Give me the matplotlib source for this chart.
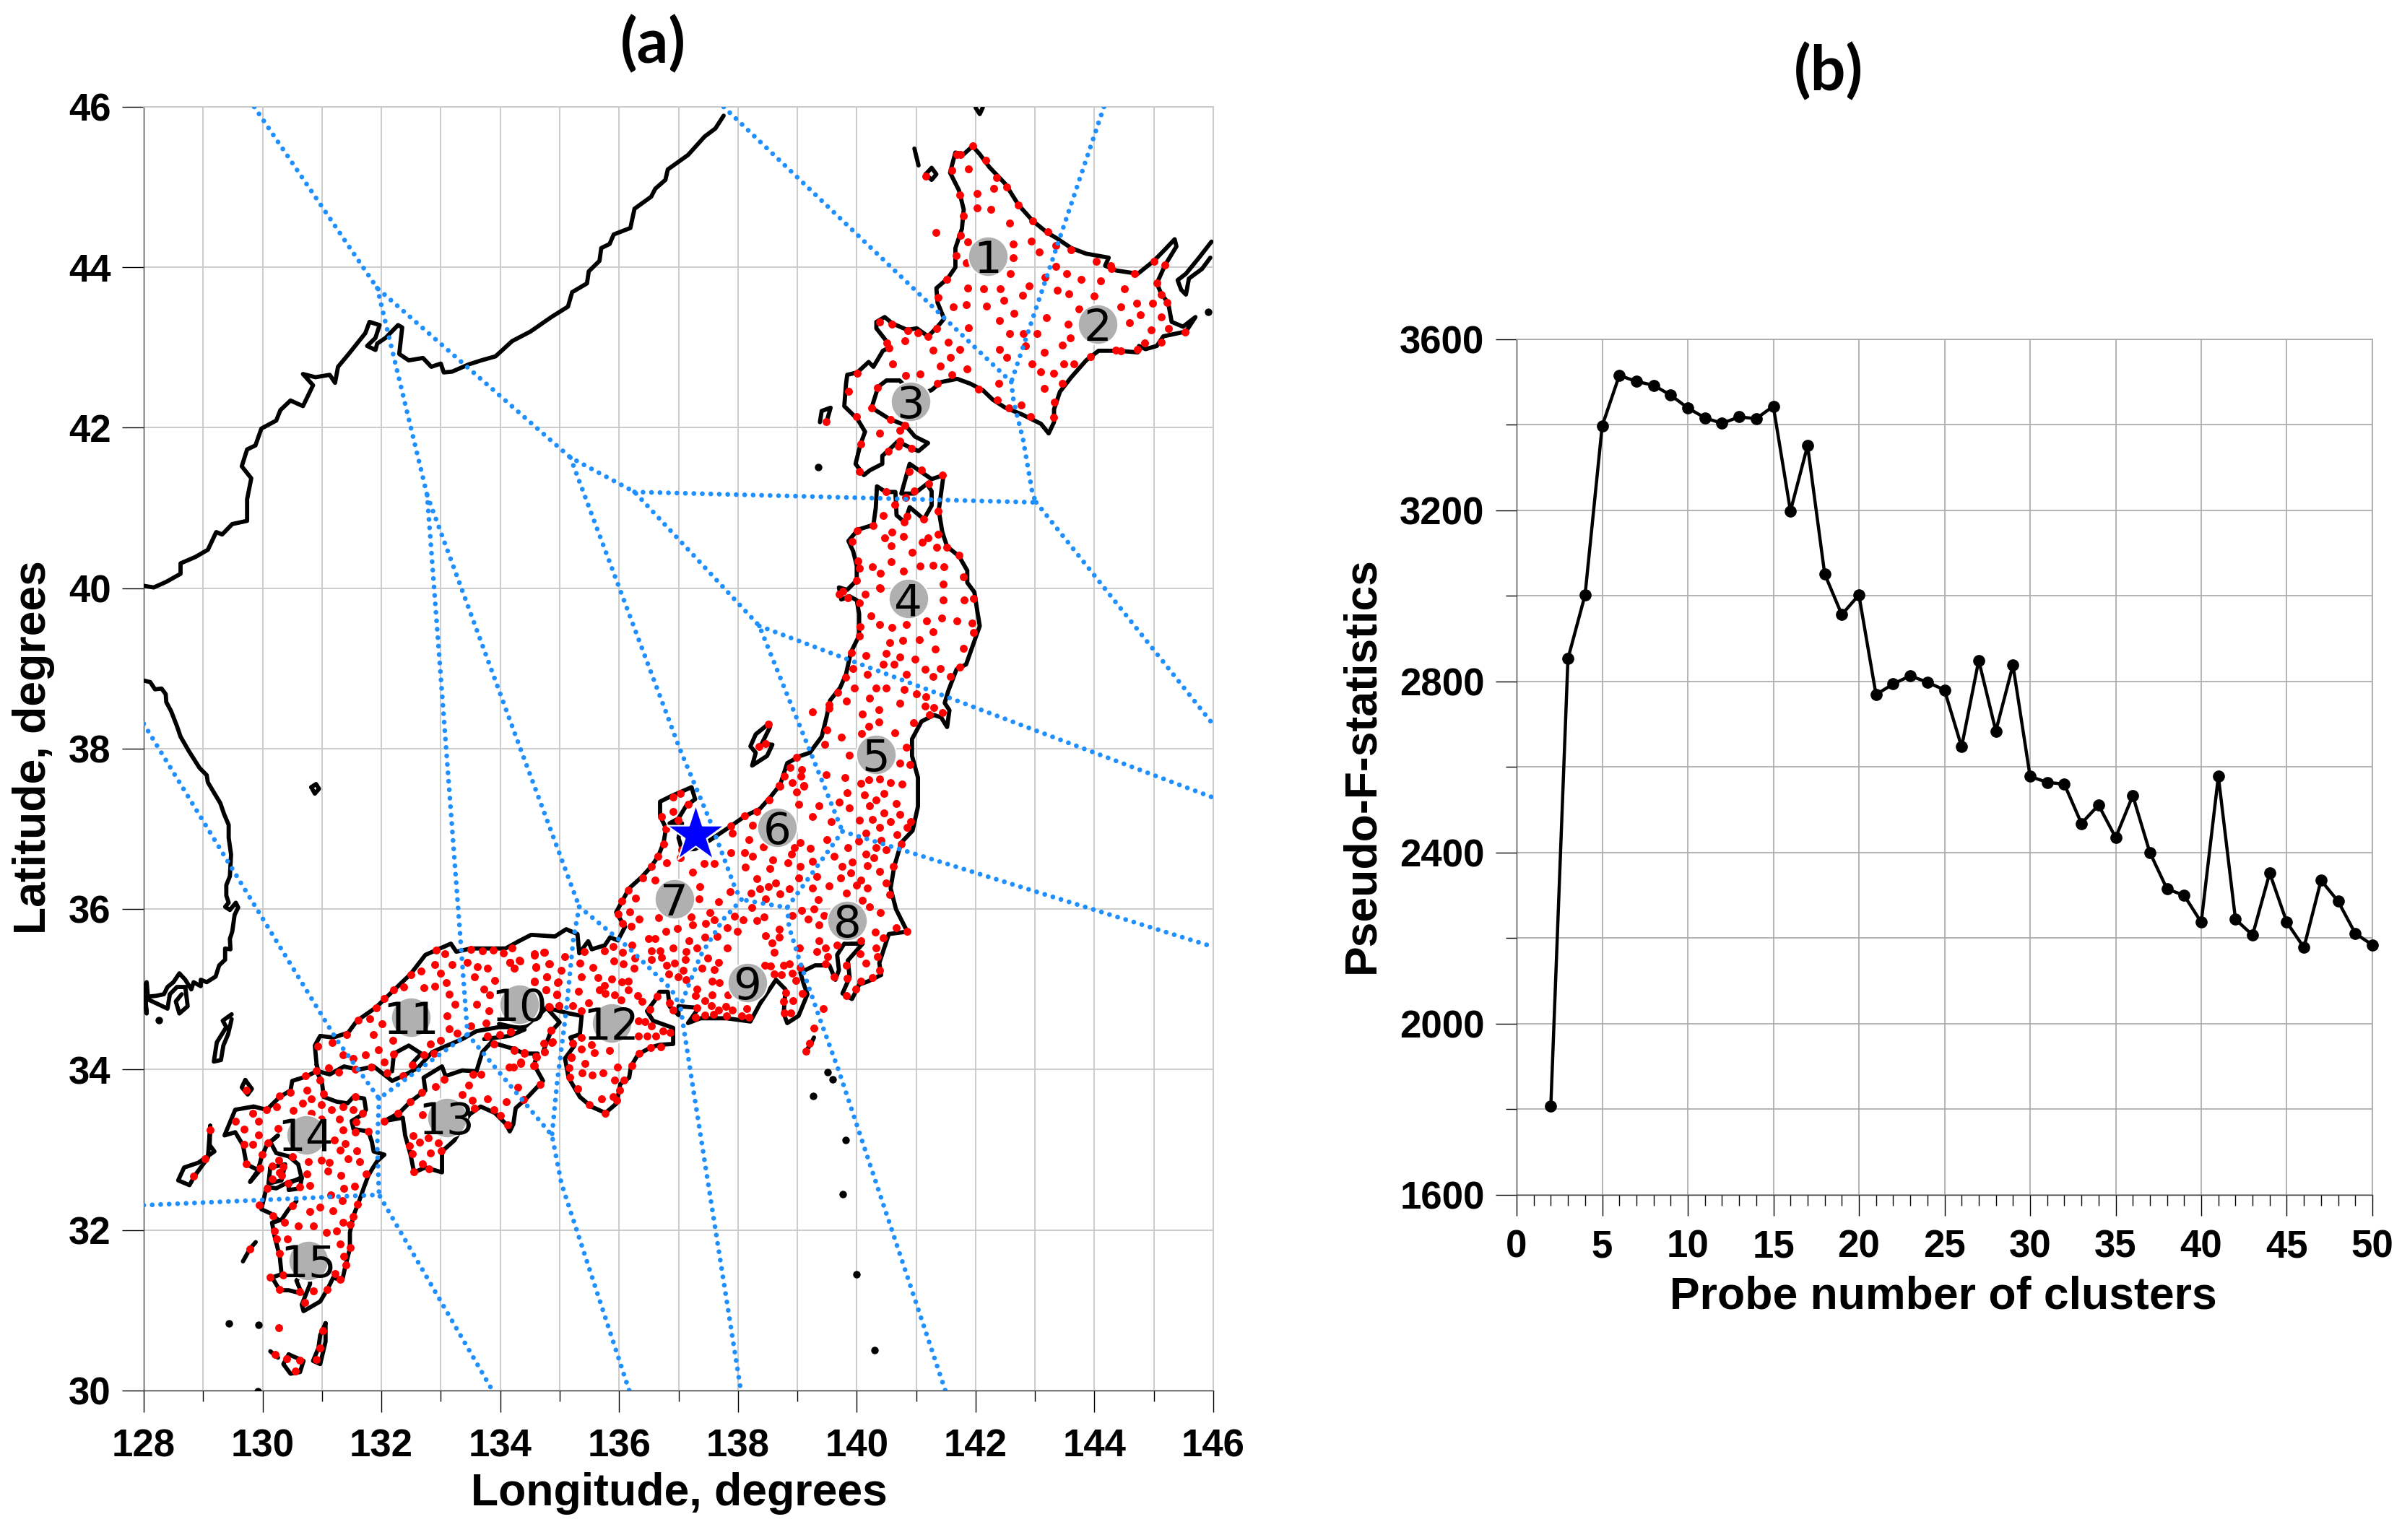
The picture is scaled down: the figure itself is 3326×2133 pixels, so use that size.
import matplotlib
matplotlib.use('Agg')
import matplotlib.pyplot as plt

W, H = 3326, 2133

# panel (b) values
probe_k = list(range(2, 51))
pseudo_f = [1808, 2853, 3002, 3397, 3515, 3501, 3492, 3469, 3439, 3416, 3403, 3418, 3414, 3443,
            3198, 3351, 3051, 2956, 3002, 2769, 2794, 2813, 2798, 2780, 2647, 2849, 2684, 2838,
            2578, 2564, 2560, 2468, 2511, 2435, 2533, 2400, 2315, 2300, 2237, 2578, 2244, 2207,
            2352, 2237, 2178, 2335, 2286, 2211, 2184]

# cluster labels (lon, lat)
cluster_lon = [142.21, 144.06, 140.91, 140.87, 140.32, 138.66, 136.93, 139.84, 138.16, 134.32, 132.5, 135.87, 133.10, 130.73, 130.77]
cluster_lat = [44.14, 43.29, 42.33, 39.87, 37.93, 37.02, 36.13, 35.86, 35.08, 34.81, 34.65, 34.58, 33.40, 33.19, 31.62]
star_lon, star_lat = 137.28, 36.93

mainland = [(128,40.03),(128.17,40.01),(128.38,40.08),(128.62,40.18),(128.62,40.31),(128.87,40.39),(129.08,40.48),(129.22,40.70),(129.32,40.67),(129.49,40.80),(129.74,40.84),(129.74,41.11),(129.81,41.37),(129.65,41.52),(129.74,41.73),(129.88,41.78),(129.98,41.99),(130.23,42.09),(130.30,42.22),(130.47,42.34),(130.68,42.27),(130.85,42.53),(130.68,42.67),(130.89,42.63),(131.13,42.66),(131.22,42.56),(131.27,42.76),(131.45,42.92),(131.73,43.18),(131.80,43.32),(131.97,43.28),(131.90,43.12),(131.76,43.02),(131.90,42.97),(131.93,43.05),(132.07,43.12),(132.28,43.28),(132.35,43.25),(132.30,42.92),(132.46,42.84),(132.70,42.87),(132.84,42.76),(133.0,42.80),(133.05,42.69),(133.19,42.70),(133.47,42.79),(133.68,42.84),(133.92,42.89),(134.20,43.08),(134.51,43.20),(134.86,43.38),(135.14,43.51),(135.21,43.69),(135.46,43.80),(135.49,43.95),(135.67,44.08),(135.70,44.24),(135.84,44.29),(135.91,44.41),(136.19,44.49),(136.26,44.73),(136.54,44.88),(136.61,44.98),(136.78,45.09),(136.82,45.22),(137.16,45.40),(137.44,45.63),(137.62,45.73),(137.76,45.89)]
korea = [(128,38.85),(128.11,38.83),(128.19,38.74),(128.30,38.75),(128.37,38.68),(128.38,38.58),(128.46,38.47),(128.56,38.28),(128.62,38.15),(128.76,37.97),(128.94,37.76),(129.06,37.67),(129.08,37.58),(129.29,37.32),(129.35,37.19),(129.43,37.05),(129.43,36.89),(129.47,36.68),(129.45,36.41),(129.39,36.30),(129.39,36.17),(129.43,36.08),(129.37,36.03),(129.45,35.99),(129.55,36.08),(129.59,36.02),(129.53,35.93),(129.49,35.72),(129.45,35.63),(129.46,35.5),(129.37,35.51),(129.37,35.37),(129.27,35.30),(129.21,35.16),(129.06,35.09),(128.96,35.12),(128.96,35.04),(128.84,35.09),(128.80,35.0),(128.70,35.12),(128.60,35.2),(128.50,35.09),(128.40,35.03),(128.34,34.94),(128.21,34.92),(128.07,34.91),(128.05,35.09),(128.0,35.01),(128.05,34.70),(128.03,34.89),(128.23,34.82),(128.40,34.76),(128.44,34.94),(128.56,35.03),(128.70,35.03),(128.74,34.79),(128.60,34.70),(128.54,34.85),(128.64,34.94)]
hokkaido = [(141.95,45.51),(142.07,45.41),(142.23,45.25),(142.50,45.04),(142.72,44.78),(142.96,44.58),(143.21,44.43),(143.37,44.36),(143.61,44.24),(143.86,44.17),(144.24,44.12),(144.18,44.02),(144.37,43.96),(144.73,43.92),(145.0,44.08),(145.21,44.24),(145.35,44.35),(145.38,44.26),(145.19,44.03),(145.05,43.80),(145.13,43.66),(145.24,43.56),(145.30,43.32),(145.49,43.26),(145.70,43.38),(145.54,43.2),(145.16,43.14),(145.05,43.02),(144.86,42.98),(144.75,43.02),(144.73,42.94),(144.40,42.96),(144.07,42.96),(143.86,42.84),(143.61,42.63),(143.42,42.45),(143.32,42.23),(143.32,42.07),(143.23,41.93),(143.10,42.05),(142.77,42.17),(142.50,42.25),(142.29,42.35),(142.12,42.47),(141.91,42.55),(141.69,42.61),(141.42,42.57),(141.26,42.47),(140.98,42.39),(140.72,42.59),(140.50,42.59),(140.36,42.51),(140.25,42.25),(140.55,42.11),(140.82,42.03),(140.98,41.89),(141.20,41.81),(141.04,41.71),(140.88,41.76),(140.69,41.83),(140.55,41.73),(140.43,41.65),(140.43,41.55),(140.22,41.47),(140.12,41.41),(139.98,41.55),(140.06,41.79),(140.14,41.95),(140.01,42.11),(139.79,42.27),(139.82,42.55),(139.84,42.66),(140.01,42.69),(140.20,42.82),(140.28,42.76),(140.44,42.96),(140.55,43.0),(140.50,43.08),(140.33,43.24),(140.33,43.32),(140.47,43.38),(140.60,43.30),(140.85,43.22),(141.01,43.24),(141.20,43.14),(141.36,43.26),(141.47,43.36),(141.36,43.56),(141.34,43.74),(141.53,43.86),(141.66,44.0),(141.66,44.24),(141.77,44.48),(141.80,44.72),(141.72,44.96),(141.57,45.18),(141.66,45.43),(141.80,45.41),(141.95,45.51)]
honshu = [(130.91,34.06),(130.88,34.30),(130.97,34.42),(131.19,34.40),(131.44,34.46),(131.59,34.61),(131.90,34.77),(132.21,34.99),(132.49,35.19),(132.74,35.43),(133.17,35.57),(133.26,35.47),(133.51,35.51),(133.85,35.51),(134.09,35.51),(134.31,35.6),(134.52,35.68),(134.92,35.66),(135.11,35.75),(135.30,35.69),(135.33,35.45),(135.48,35.60),(135.54,35.50),(135.76,35.55),(135.85,35.65),(135.98,35.61),(136.10,35.78),(135.95,35.96),(136.17,36.26),(136.38,36.40),(136.54,36.53),(136.66,36.66),(136.75,36.83),(136.79,37.01),(136.69,37.16),(136.69,37.34),(136.88,37.41),(137.22,37.52),(137.28,37.37),(137.13,37.29),(137.00,37.13),(136.85,37.07),(137.06,37.07),(137.0,36.89),(137.06,36.74),(137.28,36.75),(137.53,36.86),(137.87,37.03),(138.12,37.16),(138.37,37.25),(138.55,37.40),(138.71,37.55),(138.83,37.82),(139.05,37.91),(139.21,37.95),(139.41,38.15),(139.49,38.39),(139.55,38.60),(139.72,38.76),(139.82,38.93),(139.90,39.20),(140.04,39.41),(140.04,39.68),(140.0,39.85),(139.88,39.90),(139.74,39.86),(139.70,40.01),(139.84,39.98),(140.0,40.10),(140.0,40.28),(139.94,40.46),(139.86,40.59),(140.02,40.73),(140.28,40.79),(140.32,41.0),(140.34,41.27),(140.49,41.2),(140.65,41.2),(140.67,40.91),(140.81,40.82),(140.89,41.01),(141.13,40.86),(141.26,41.03),(141.26,41.21),(141.18,41.30),(140.97,41.18),(140.75,41.18),(140.89,41.55),(141.26,41.36),(141.46,41.41),(141.38,40.97),(141.44,40.70),(141.52,40.52),(141.72,40.40),(141.86,40.22),(141.86,40.07),(141.98,39.95),(142.03,39.71),(142.07,39.53),(141.97,39.32),(141.84,39.05),(141.68,38.99),(141.54,38.72),(141.48,38.57),(141.56,38.48),(141.52,38.27),(141.42,38.39),(141.30,38.42),(141.09,38.34),(140.93,38.12),(140.93,37.91),(141.03,37.64),(141.03,37.28),(140.94,36.98),(140.75,36.83),(140.63,36.53),(140.57,36.26),(140.66,36.0),(140.85,35.72),(140.54,35.69),(140.38,35.33),(140.41,35.18),(140.19,35.10),(140.04,35.06),(139.92,34.88),(139.76,34.95),(139.88,35.15),(139.85,35.36),(140.10,35.57),(139.79,35.57),(139.67,35.43),(139.70,35.24),(139.64,35.12),(139.54,35.30),(139.30,35.30),(139.05,35.21),(139.11,35.06),(139.17,34.94),(139.02,34.67),(138.83,34.58),(138.77,34.70),(138.80,35.0),(138.64,35.12),(138.37,34.82),(138.21,34.60),(137.81,34.64),(137.37,34.64),(137.16,34.58),(137.34,34.77),(137.0,34.79),(137.0,34.68),(136.85,34.79),(136.82,34.97),(136.68,34.97),(136.60,34.86),(136.47,34.73),(136.57,34.61),(136.91,34.52),(136.91,34.32),(136.69,34.31),(136.54,34.28),(136.32,34.19),(136.20,34.04),(136.17,33.90),(136.02,33.82),(135.96,33.58),(135.77,33.46),(135.53,33.54),(135.34,33.66),(135.15,33.90),(135.09,34.14),(135.25,34.30),(135.18,34.40),(135.34,34.44),(135.37,34.67),(135.16,34.70),(134.78,34.77),(134.41,34.53),(133.98,34.53),(133.60,34.48),(133.36,34.38),(132.98,34.26),(132.86,34.22),(132.61,34.02),(132.36,33.92),(132.18,33.86),(131.87,34.04),(131.62,34.0),(131.37,34.04),(131.13,33.94),(130.94,33.98),(130.91,34.06)]
shikoku = [(132.05,33.36),(132.30,33.46),(132.49,33.60),(132.74,33.74),(132.71,33.90),(133.02,34.04),(133.08,33.92),(133.36,33.99),(133.60,33.98),(133.70,34.22),(133.85,34.34),(134.22,34.26),(134.41,34.20),(134.63,34.20),(134.57,34.06),(134.72,33.86),(134.44,33.64),(134.26,33.52),(134.22,33.32),(134.16,33.23),(134.10,33.32),(133.91,33.46),(133.67,33.54),(133.48,33.44),(133.23,33.12),(133.02,32.98),(133.02,32.72),(132.74,32.78),(132.55,32.72),(132.49,32.94),(132.40,33.18),(132.36,33.40),(132.05,33.36)]
kyushu = [(129.85,33.54),(130.07,33.50),(130.29,33.66),(130.47,33.74),(130.50,33.86),(130.72,33.91),(130.91,33.98),(131.00,33.84),(131.03,33.66),(131.25,33.60),(131.43,33.58),(131.53,33.66),(131.71,33.64),(131.74,33.50),(131.68,33.44),(131.50,33.36),(131.53,33.26),(131.78,33.23),(131.84,33.10),(131.87,32.98),(132.05,32.94),(131.93,32.86),(131.86,32.78),(131.78,32.68),(131.70,32.52),(131.62,32.35),(131.53,32.18),(131.47,31.97),(131.47,31.77),(131.40,31.57),(131.34,31.37),(131.19,31.41),(131.09,31.26),(130.97,31.11),(130.69,30.99),(130.66,31.07),(130.80,31.33),(130.78,31.57),(130.57,31.37),(130.66,31.21),(130.44,31.25),(130.29,31.25),(130.16,31.41),(130.32,31.45),(130.29,31.67),(130.20,31.93),(130.16,32.09),(130.26,32.13),(130.13,32.21),(129.98,32.26),(130.07,32.54),(130.23,32.52),(130.44,32.60),(130.66,32.64),(130.60,32.82),(130.44,32.92),(130.23,32.96),(130.13,33.10),(130.26,33.18),(130.07,33.06),(129.98,32.90),(129.92,32.74),(129.79,32.60),(129.95,32.74),(129.73,32.82),(129.67,33.06),(129.54,33.22),(129.36,33.18),(129.45,33.34),(129.54,33.50),(129.85,33.54)]
small_coasts = [
    [(130.57,32.36),(130.44,32.26),(130.32,32.13),(130.16,32.09)],
    [(130.13,32.78),(130.38,32.82),(130.32,32.62),(130.10,32.58),(130.13,32.78)],
    [(130.44,32.58),(130.66,32.66),(130.63,32.52),(130.44,32.50),(130.44,32.58)],
    [(132.18,33.98),(132.21,34.20),(132.46,34.30),(132.67,34.20),(132.52,34.08)],
    [(134.78,34.77),(135.0,34.59),(134.85,34.47),(134.72,34.22)],
    [(133.98,34.57),(134.41,34.50),(134.16,34.42),(133.73,34.38)],
    [(138.50,38.30),(138.30,38.18),(138.21,38.03),(138.30,37.95),(138.24,37.79),(138.49,37.91),(138.58,38.05),(138.40,38.06),(138.54,38.27)],
    [(141.16,45.16),(141.26,45.24),(141.34,45.16),(141.26,45.09),(141.16,45.16)],
    [(140.97,45.48),(141.04,45.27)],
    [(139.38,42.07),(139.41,42.21),(139.56,42.25),(139.49,42.07)],
    [(145.97,44.32),(145.76,44.12),(145.54,43.92),(145.40,43.84),(145.46,43.72),(145.54,43.66),(145.59,43.86),(145.81,43.98),(145.95,44.12)],
    [(142.0,45.99),(142.07,45.91),(142.12,45.99)],
    [(129.48,34.69),(129.33,34.61),(129.39,34.53),(129.23,34.34),(129.18,34.10),(129.30,34.12),(129.34,34.30),(129.42,34.44),(129.48,34.63)],
    [(129.71,33.87),(129.65,33.78),(129.75,33.69),(129.82,33.76),(129.71,33.87)],
    [(129.12,33.30),(129.11,33.06),(129.19,32.98),(128.92,32.84),(128.68,32.78),(128.58,32.62),(128.77,32.56),(128.86,32.68),(129.08,32.90),(129.12,33.30)],
    [(129.885,31.85),(129.79,31.77),(129.67,31.61)],
    [(131.06,30.84),(130.97,30.69),(130.94,30.53),(130.85,30.37),(130.97,30.33),(131.06,30.61),(131.06,30.84)],
    [(130.44,30.45),(130.35,30.33),(130.47,30.21),(130.63,30.23),(130.69,30.37),(130.44,30.45)],
    [(130.13,30.49),(130.26,30.41)],
    [(130.82,37.52),(130.9,37.56),(130.95,37.5),(130.88,37.44),(130.82,37.52)],
    [(139.28,34.40),(139.22,34.31),(139.14,34.23)],
]
tiny_islands_lon = [128.25, 145.92, 139.35, 129.43, 129.93, 129.92, 139.51, 139.6, 139.27, 139.81, 139.76, 140.0, 140.3]
tiny_islands_lat = [34.62, 43.44, 41.51, 30.84, 30.82, 29.99, 33.97, 33.88, 33.67, 33.12, 32.45, 31.45, 30.5]

# cluster boundaries
boundaries = [
    [(129.86,46),(131.93,43.74),(135.18,41.63),(136.26,41.20),(138.36,39.53),(139.76,36.97)],
    [(136.26,41.20),(143.02,41.07)],
    [(137.76,46),(142.60,42.57)],
    [(144.16,46),(142.60,42.57)],
    [(142.60,42.57),(142.64,42.33),(142.80,41.85),(142.96,41.17),(143.02,41.07)],
    [(143.02,41.07),(146,38.3)],
    [(138.36,39.53),(146,37.39)],
    [(139.76,36.97),(146,35.53)],
    [(131.93,43.74),(132.77,41.16),(133.09,38),(133.33,35.63),(133.45,34.44)],
    [(132.77,41.16),(134.34,38),(135.33,36.03)],
    [(135.18,41.63),(137.02,38.0),(137.53,37.10),(137.96,36.25),(138.06,36.12)],
    [(138.06,36.12),(137.75,35.87),(137.37,35.42),(137.03,34.79),(137.22,33.89),(138.05,30)],
    [(139.76,36.97),(138.83,36.02),(138.43,36.07),(138.06,36.12)],
    [(138.83,36.02),(138.86,35.78),(139.05,35.33),(139.39,34.61),(139.70,33.98),(141.49,30)],
    [(135.33,36.03),(136.13,35.54),(136.88,35.0),(137.03,34.79)],
    [(135.33,36.03),(135.23,35.63),(135.11,34.73),(134.96,33.86),(134.87,33.18)],
    [(133.45,34.44),(134.87,33.18),(135.03,32.58),(136.17,30)],
    [(128,38.31),(131.25,34.37),(131.96,33.64),(133.45,34.44)],
    [(131.96,33.64),(131.93,33.06),(131.96,32.44)],
    [(128,32.31),(131.96,32.44),(133.87,30)],
]

# station dots by area
dots_hokkaido = [(141.95,45.51),(141.68,45.41),(141.75,45.41),(142.17,45.33),(141.60,45.21),(141.88,45.23),(142.35,45.12),(142.53,45.0),(142.30,44.98),(142.02,44.92),(141.73,44.90),(142.03,44.74),(142.26,44.72),(142.72,44.78),(141.79,44.64),(142.96,44.58),(142.57,44.55),(143.22,44.44),(141.33,44.43),(141.75,44.40),(141.87,44.32),(142.94,44.33),(142.63,44.29),(143.35,44.27),(143.61,44.22),(143.07,44.19),(141.67,44.15),(142.63,44.12),(141.84,44.06),(144.03,44.07),(144.28,44.02),(144.29,43.98),(143.35,44.01),(142.58,43.92),(143.53,43.92),(143.78,43.85),(144.11,43.83),(144.67,43.92),(145.0,44.07),(145.19,44.03),(143.17,43.88),(141.51,43.85),(141.87,43.74),(142.13,43.73),(142.41,43.73),(142.90,43.77),(144.50,43.73),(145.05,43.80),(143.38,43.71),(143.57,43.67),(142.79,43.65),(143.99,43.64),(141.37,43.62),(142.48,43.59),(145.13,43.66),(145.22,43.56),(144.71,43.55),(144.98,43.55),(141.62,43.51),(141.84,43.53),(142.18,43.52),(144.44,43.51),(143.74,43.48),(142.64,43.43),(144.77,43.41),(145.12,43.38),(143.19,43.37),(142.40,43.34),(144.59,43.31),(140.38,43.32),(140.59,43.29),(143.56,43.29),(141.88,43.25),(141.35,43.24),(140.86,43.21),(141.03,43.18),(141.20,43.14),(145.25,43.24),(144.96,43.22),(145.52,43.19),(142.57,43.17),(142.80,43.17),(143.03,43.17),(143.59,43.12),(140.81,43.08),(141.54,43.07),(145.13,43.07),(140.51,43.06),(144.84,43.06),(143.46,43.03),(142.84,43.02),(140.54,42.99),(141.73,42.98),(141.29,42.97),(142.40,42.98),(144.36,42.97),(144.44,42.96),(144.72,42.98),(143.16,42.94),(141.57,42.88),(142.53,42.88),(143.93,42.89),(140.60,42.80),(142.95,42.80),(143.49,42.80),(143.65,42.80),(141.40,42.77),(141.86,42.73),(143.10,42.70),(143.31,42.68),(140.01,42.68),(141.07,42.67),(141.60,42.66),(140.82,42.65),(142.39,42.55),(141.36,42.55),(143.46,42.55),(140.35,42.50),(142.05,42.48),(143.15,42.49),(139.86,42.45),(142.36,42.35),(143.33,42.32),(142.77,42.28),(142.56,42.25),(140.25,42.25),(142.93,42.14),(143.31,42.13),(140.0,42.14),(140.57,42.10),(139.48,42.08),(140.81,42.03),(140.72,41.97),(140.38,41.93),(140.07,41.80),(140.72,41.83),(140.70,41.77),(140.53,41.71),(140.92,41.74),(140.04,41.46),(141.16,45.14)]
dots_tohoku = [(140.88,41.46),(141.09,41.47),(141.44,41.41),(141.21,41.30),(140.97,41.21),(140.50,41.20),(140.82,41.13),(140.64,41.04),(141.37,40.96),(140.45,40.91),(140.85,40.90),(140.80,40.83),(141.13,40.86),(140.27,40.78),(140.01,40.72),(140.59,40.70),(141.37,40.67),(140.79,40.65),(141.20,40.63),(140.47,40.63),(139.92,40.58),(141.10,40.57),(140.58,40.53),(141.34,40.51),(141.51,40.51),(140.93,40.45),(141.72,40.41),(140.02,40.34),(140.58,40.33),(141.07,40.28),(141.29,40.29),(141.47,40.27),(140.26,40.27),(140.05,40.25),(140.40,40.19),(140.78,40.21),(141.80,40.14),(139.99,40.10),(141.46,40.05),(140.39,40.01),
    (139.70,39.93),(139.77,39.96),(139.85,39.88),(140.05,39.82),(140.14,39.93),(140.40,40.0),(141.45,39.85),(141.81,39.85),(141.96,39.87),(140.24,39.66),(141.43,39.63),(141.68,39.59),(141.18,39.59),(141.94,39.57),(140.06,39.52),(140.39,39.55),(140.59,39.51),(140.84,39.55),(141.29,39.46),(141.96,39.45),(140.05,39.40),(140.56,39.32),(140.77,39.35),(141.05,39.36),(141.80,39.25),(141.32,39.24),(139.91,39.20),(140.50,39.19),(140.16,39.16),(140.72,39.14),(140.98,39.12),(140.45,39.05),(140.63,39.05),(141.41,39.0),(141.73,39.02),(139.93,39.0),(141.15,38.99),(140.18,38.93),(140.84,38.93),(141.28,38.90),(141.58,38.90),(139.81,38.89),(139.96,38.76),(140.32,38.76),(140.50,38.76),(140.80,38.74),(139.68,38.70),(141.0,38.68),(141.16,38.65),(140.22,38.63),(139.83,38.59),(139.54,38.55),(140.73,38.57),(141.15,38.53),(139.53,38.50),(140.37,38.49),(141.30,38.51),(139.26,38.46),(140.09,38.43),(141.22,38.42),(141.44,38.45),(140.37,38.33),(140.96,38.32),(140.20,38.28),(139.50,38.23),(140.08,38.19),(140.64,38.20),(139.74,38.14),(139.46,38.05),(140.84,38.02),(138.46,38.06),(138.36,38.03),(138.51,38.31),(139.87,37.92),(138.99,37.89),(140.73,37.82),(140.90,37.80),(138.88,37.77),(139.07,37.74),(139.49,37.68),(138.78,37.66),(139.06,37.66),(139.80,37.64),(140.20,37.61),(140.38,37.62),(140.57,37.58),(140.07,37.57),(140.76,37.56),(138.92,37.58),(139.11,37.54),(138.70,37.54)]
dots_central = [(139.11,37.53),(138.71,37.53),(138.99,37.46),(139.84,37.45),(140.13,37.42),(140.46,37.44),(138.52,37.36),(140.32,37.36),(140.66,37.32),(139.02,37.31),(139.36,37.29),(139.70,37.33),(140.21,37.29),(138.32,37.22),(139.88,37.26),(140.46,37.20),(140.72,37.18),(138.11,37.16),(139.25,37.15),(140.26,37.12),(140.04,37.11),(140.57,37.09),(140.91,37.09),(139.57,37.09),(136.91,37.22),(137.16,37.31),(136.91,37.40),(137.03,37.44),(136.99,37.11),(136.72,37.15),(137.88,37.04),(138.24,37.05),(140.38,37.02),(140.85,37.02),(136.79,37.0),(137.90,36.95),(140.16,36.95),(140.68,36.93),(138.19,36.87),(139.5,36.87),(139.05,36.83),(136.75,36.81),(140.03,36.85),(140.75,36.81),(140.41,36.86),(138.43,36.78),(138.95,36.77),(139.22,36.76),(139.85,36.77),(140.32,36.77),(137.05,36.74),(137.88,36.70),(138.11,36.70),(138.90,36.69),(139.62,36.66),(138.24,36.66),(140.16,36.69),(140.5,36.74),(136.65,36.66),(137.03,36.64),(140.29,36.64),(138.59,36.61),(139.26,36.60),(137.43,36.57),(137.60,36.57),(138.84,36.58),(139.92,36.59),(136.80,36.58),(136.54,36.53),(138.13,36.52),(139.05,36.53),(139.75,36.53),(140.18,36.54),(140.62,36.53),(138.54,36.51),(140.39,36.47),(137.24,36.46),(139.90,36.45),(136.40,36.39),(136.60,36.36),(138.32,36.38),(139.02,36.39),(139.73,36.39),(139.33,36.41),(140.49,36.33),(140.07,36.36),(138.64,36.33),(139.99,36.30),(139.54,36.29),(137.36,36.28),(138.37,36.25),(138.51,36.28),(138.86,36.25),(139.26,36.26),(140.18,36.26),(136.15,36.24),(137.87,36.22),(138.22,36.20),(138.71,36.19),(139.82,36.20),(140.55,36.18),(136.28,36.14),(137.35,36.13),(138.46,36.13),(139.35,36.12),(136.04,36.10),(140.09,36.11),(137.68,36.09),(140.21,36.03),(139.28,36.0),(139.07,35.98),(138.23,36.02),(136.18,35.97),(135.99,35.94),(137.53,35.96),(140.40,35.96),(138.92,35.92),(137.21,35.90),(136.66,35.89),(137.94,35.91),(139.45,35.92),(138.44,35.90),(137.60,35.87),(138.09,35.87),(138.32,35.86),(139.18,35.88),(136.34,35.88),(136.06,35.82),(137.45,35.82),(137.82,35.77),(137.24,35.80),(136.20,35.79),(139.37,35.80),(138.70,35.75),(136.98,35.76),(140.66,35.77),(140.85,35.72),(136.79,35.72),(137.99,35.72),(138.46,35.67),(140.31,35.71),(137.44,35.65),(138.69,35.65),(140.45,35.64),(136.49,35.63),(136.61,35.63),(137.65,35.66),(137.18,35.61),(139.37,35.61),(138.58,35.58),(139.67,35.55),(136.21,35.55),(140.07,35.61),(137.82,35.52),(136.91,35.52),(137.31,35.52),(139.47,35.52),(139.03,35.52),(140.32,35.52),(135.90,35.53),(139.33,35.47),(138.61,35.46),(136.55,35.48),(136.69,35.48),(137.13,35.47),(135.75,35.48),(135.41,35.47),(136.06,35.46),(140.06,35.44),(140.35,35.41),(134.58,35.43),(134.73,35.46),(135.08,35.41),(136.72,35.40),(137.49,35.39),(139.51,35.41),(137.11,35.37),(136.55,35.37),(136.26,35.39),(134.16,35.34),(134.32,35.36),(135.91,35.35),(137.67,35.34),(135.34,35.33),(136.07,35.32),(140.15,35.33),(136.93,35.33),(134.82,35.32),(139.47,35.32),(138.87,35.32),(138.77,35.30),(139.05,35.27),(138.55,35.29),(138.45,35.30),(136.80,35.30),(139.82,35.30),(134.24,35.26),(134.60,35.27),(135.56,35.27),(136.25,35.26),(140.39,35.24),(137.08,35.24),(137.40,35.26),(137.60,35.25),(135.03,35.24),(135.37,35.16),(136.83,35.19),(134.78,35.16),(135.64,35.15),(138.61,35.19),(138.73,35.18),(138.92,35.20),(138.97,35.11),(136.99,35.16),(140.26,35.15),(139.62,35.16),(135.87,35.13),(136.04,35.09),(136.16,35.10),(137.57,35.10),(137.69,35.08),(134.58,35.09),(134.97,35.08),(140.07,35.10),(139.84,35.14),(137.13,35.12),(135.76,35.05),(137.31,35.0),(139.98,35.0),(135.32,34.98),(134.77,34.99),(135.67,34.99),(136.15,34.99),(138.80,34.96),(139.08,34.95),(136.64,34.91),(136.31,34.92),(134.95,34.93),(137.29,34.92),(137.57,34.93),(137.83,34.93),(135.77,34.95),(135.92,34.93),(139.83,34.92),(135.49,34.83),(136.39,34.85),(137.44,34.86),(138.77,34.85),(138.93,34.86),(136.03,34.87),(136.85,34.83),(134.83,34.78),(135.22,34.80),(134.99,34.80),(136.52,34.75),(136.91,34.74),(137.31,34.77),(137.55,34.80),(137.80,34.79),(137.91,34.74),(138.15,34.76),(139.44,34.76),(137.68,34.74),(135.37,34.73),(138.78,34.71),(138.89,34.71),(137.44,34.68),(137.59,34.69),(137.81,34.67),(138.06,34.67),(137.28,34.65),(138.18,34.65),(136.32,34.61),(136.43,34.60),(136.55,34.54),(136.74,34.48),(136.86,34.46),(134.86,34.49),(139.28,34.52),(136.33,34.42),(136.47,34.42),(136.62,34.42),(134.18,34.47),(135.36,34.40),(139.21,34.33),(134.88,34.35),(135.22,34.33),(134.73,34.33),(136.53,34.27),(136.70,34.28),(135.53,34.31),(135.36,34.26),(135.84,34.24),(139.14,34.23),(134.24,34.25),(135.59,34.21),(134.40,34.20),(134.60,34.17),(136.34,34.20),(135.20,34.15),(134.35,34.09),(135.42,34.08),(134.15,34.03),(134.56,34.05),(135.16,34.02),(135.97,34.03),(136.21,34.05),(135.38,33.96),(135.55,33.93),(135.73,33.96),(135.17,33.91),(135.92,33.87),(136.08,33.87)]
dots_west = [(135.31,33.76),(135.50,33.56),(135.71,33.64),(135.77,33.46),(135.90,33.66),(135.96,33.62),(136.01,33.74),(135.19,34.16),
    (133.51,35.50),(133.70,35.48),(133.88,35.49),(134.05,35.45),(134.20,35.52),(134.58,35.44),(134.74,35.46),(132.92,35.49),(133.07,35.44),(133.45,35.34),(132.90,35.31),(133.19,35.31),(134.16,35.34),(134.33,35.35),(134.83,35.32),(133.62,35.28),(133.79,35.26),(134.24,35.26),(134.60,35.28),(132.67,35.23),(133.00,35.20),(132.50,35.18),(133.57,35.16),(134.78,35.16),(133.91,35.11),(134.58,35.10),(134.98,35.09),(133.09,35.08),(133.73,35.0),(134.77,34.99),(132.38,35.03),(132.72,35.02),(132.90,35.04),(132.20,34.99),(134.95,34.94),(133.14,34.94),(132.05,34.89),(133.82,34.93),(133.60,34.81),(133.24,34.81),(131.91,34.77),(133.81,34.73),(134.82,34.79),(134.99,34.80),(133.11,34.67),(131.81,34.63),(131.61,34.62),(132.01,34.57),(133.76,34.58),(133.51,34.54),(133.14,34.51),(131.42,34.44),(131.87,34.44),(133.28,34.45),(133.79,34.42),(133.99,34.44),(134.18,34.47),(131.17,34.34),(132.19,34.36),(133.0,34.36),(132.82,34.32),(133.90,34.32),(130.93,34.29),(131.95,34.25),(132.21,34.19),(132.89,34.20),(132.71,34.18),(131.73,34.18),(131.53,34.14),(131.35,34.18),(134.24,34.24),(134.41,34.21),(134.61,34.16),(134.74,34.22),(134.87,34.34),(134.86,34.49),(132.05,34.09),(132.52,34.06),(134.35,34.08),(134.57,34.05),(131.11,34.02),(130.91,33.99),(131.28,33.97),(131.56,34.0),(131.83,34.03),(132.10,33.96),(132.36,33.92),(134.22,34.03)]
dots_shikoku = [(133.05,33.88),(133.54,33.94),(133.68,33.94),(132.68,33.72),(132.91,33.79),(133.47,33.81),(134.67,33.82),(134.29,33.78),(133.36,33.69),(133.79,33.64),(133.53,33.62),(134.10,33.60),(134.39,33.63),(132.49,33.60),(133.57,33.52),(133.90,33.50),(132.69,33.44),(134.01,33.43),(132.28,33.46),(132.05,33.36),(134.12,33.31),(132.53,33.18),(132.79,33.15),(132.47,33.05),(132.64,33.10),(132.96,33.09),(133.01,32.99),(132.52,32.95),(132.83,32.96),(132.69,32.83),(132.80,32.76),(132.55,32.73)]
dots_kyushu = [(130.72,33.92),(130.97,33.87),(130.47,33.72),(130.75,33.74),(130.29,33.67),(131.03,33.70),(130.82,33.64),(131.56,33.66),(130.67,33.58),(130.99,33.56),(130.52,33.49),(130.24,33.54),(130.07,33.50),(129.84,33.46),(131.35,33.54),(131.16,33.50),(131.52,33.50),(131.68,33.46),(130.99,33.38),(130.82,33.46),(129.54,33.36),(129.93,33.36),(131.29,33.38),(131.57,33.35),(130.26,33.27),(129.69,33.26),(131.35,33.25),(131.56,33.22),(131.78,33.23),(129.93,33.19),(131.21,33.12),(131.39,33.08),(130.09,33.09),(129.69,33.07),(129.84,33.07),(131.59,32.99),(131.30,33.0),(130.50,32.92),(129.99,32.94),(131.44,32.89),(130.77,32.85),(130.99,32.87),(131.12,32.84),(131.63,32.85),(129.72,32.83),(130.27,32.87),(129.96,32.77),(130.16,32.80),(130.35,32.79),(130.29,32.72),(131.10,32.74),(130.75,32.70),(131.74,32.70),(131.32,32.68),(130.16,32.64),(130.32,32.68),(130.43,32.58),(130.63,32.54),(130.80,32.56),(130.08,32.52),(131.37,32.52),(131.55,32.55),(131.15,32.44),(131.34,32.37),(129.95,32.31),(130.50,32.30),(130.97,32.29),(131.60,32.32),(130.80,32.23),(131.19,32.24),(130.18,32.18),(131.53,32.17),(130.37,32.10),(131.35,32.10),(130.60,32.05),(130.86,32.05),(131.48,32.07),(130.20,31.99),(131.25,31.99),(131.07,31.97),(130.24,31.89),(130.42,31.89),(131.30,31.83),(131.47,31.78),(130.29,31.71),(131.37,31.67),(131.40,31.57),(131.22,31.46),(131.30,31.39),(130.13,31.41),(130.34,31.44),(130.29,31.26),(130.86,31.24),(130.63,31.23),(131.09,31.26),(130.71,31.10),(129.79,31.76),(129.12,33.25),(129.03,32.886),(128.84,32.67),(131.02,30.75),(130.96,30.53),(130.90,30.39),(130.21,30.45),(130.41,30.40),(130.63,30.38),(130.55,30.24),(130.27,30.78),(129.73,33.74)]


def px_rect(x0, y0, x1, y1):
    return [x0 / W, 1 - y1 / H, (x1 - x0) / W, (y1 - y0) / H]


def put_text(x, y, s, **kw):
    fig.text(x / W, 1 - y / H, s, ha='center', va='center', **kw)


plt.rcParams['font.family'] = ['Liberation Sans', 'DejaVu Sans']
tick_size = 38
label_size = 45

fig = plt.figure(figsize=(W / 100, H / 100), dpi=100)

# ---- panel (a) map
ax = fig.add_axes(px_rect(199, 148, 1680, 1926))
ax.set_xlim(128, 146)
ax.set_ylim(30, 46)
ax.set_xticks(range(128, 147, 2))
ax.set_xticks(range(129, 146, 2), minor=True)
ax.set_yticks(range(30, 47, 2))
ax.grid(True, which='both', axis='x', color='#c8c8c8', lw=1.3, zorder=0)
ax.grid(True, which='major', axis='y', color='#c8c8c8', lw=1.3, zorder=0)
ax.set_axisbelow(True)
for side in ['top', 'right']:
    ax.spines[side].set_color('#c8c8c8')
    ax.spines[side].set_linewidth(1.3)
for side in ['left', 'bottom']:
    ax.spines[side].set_color('#404040')
    ax.spines[side].set_linewidth(1.0)
ax.tick_params(axis='x', which='major', length=21.6, width=1.0, pad=16, labelsize=tick_size)
ax.tick_params(axis='x', which='minor', length=11, width=1.0)
ax.tick_params(axis='y', which='major', length=21.6, width=1.0, pad=11, labelsize=tick_size)
for lab in ax.get_xticklabels() + ax.get_yticklabels():
    lab.set_fontweight('bold')

for coast in [mainland, korea, hokkaido, honshu, shikoku, kyushu] + small_coasts:
    ax.plot([p[0] for p in coast], [p[1] for p in coast], color='black', lw=4.2,
            solid_joinstyle='round', solid_capstyle='round', zorder=3)
ax.scatter(tiny_islands_lon, tiny_islands_lat, s=42, color='black', zorder=3)

all_dots = dots_hokkaido + dots_tohoku + dots_central + dots_west + dots_shikoku + dots_kyushu
ax.scatter([p[0] for p in all_dots], [p[1] for p in all_dots], s=62, color='#ff0000',
           linewidths=0, zorder=4)

for seg in boundaries:
    ax.plot([p[0] for p in seg], [p[1] for p in seg], color='#1e8fff', lw=4.8,
            linestyle=(0, (0.01, 1.75)), dash_capstyle='round', zorder=5)

ax.scatter(cluster_lon, cluster_lat, s=1600, color='#b0b0b0', edgecolors='white',
           linewidths=1.5, zorder=6)
for i in range(len(cluster_lon)):
    ax.text(cluster_lon[i], cluster_lat[i], str(i + 1), fontsize=44, family='DejaVu Sans',
            ha='center', va='center_baseline', color='black', zorder=7)
ax.scatter([star_lon], [star_lat], marker='*', s=3600, color='#0000ff', edgecolors='white',
           linewidths=1.5, zorder=8)

# ---- panel (b) pseudo-F curve
bx = fig.add_axes(px_rect(2100, 469.6, 3285, 1655))
bx.set_xlim(0, 50)
bx.set_ylim(1600, 3600)
bx.set_xticks(range(0, 51, 5))
bx.set_xticks(range(0, 51), minor=True)
bx.set_yticks(range(1600, 3601, 400))
bx.set_yticks(range(1600, 3601, 200), minor=True)
bx.grid(True, which='major', axis='x', color='#a8a8a8', lw=1.2)
bx.grid(True, which='minor', axis='y', color='#a8a8a8', lw=1.2)
bx.grid(True, which='major', axis='y', color='#a8a8a8', lw=1.2)
bx.set_axisbelow(True)
for side in ['top', 'right']:
    bx.spines[side].set_color('#a8a8a8')
    bx.spines[side].set_linewidth(1.2)
for side in ['left', 'bottom']:
    bx.spines[side].set_color('#404040')
    bx.spines[side].set_linewidth(1.0)
bx.tick_params(axis='both', which='major', length=21, width=1.0, labelsize=tick_size)
bx.tick_params(axis='both', which='minor', length=11, width=1.0)
bx.tick_params(axis='x', which='major', pad=13)
bx.tick_params(axis='y', which='major', pad=11)
for lab in bx.get_xticklabels() + bx.get_yticklabels():
    lab.set_fontweight('bold')
bx.plot(probe_k, pseudo_f, color='black', lw=3.2, marker='o', ms=11, clip_on=False, zorder=4)

# ---- titles and axis labels
put_text(904, 62, '(a)', fontsize=62, fontweight='bold', family='Lato')
put_text(2532, 100, '(b)', fontsize=62, fontweight='bold', family='Lato')
put_text(940, 2068, 'Longitude, degrees', fontsize=label_size, fontweight='bold')
put_text(47, 1035, 'Latitude, degrees', fontsize=label_size, fontweight='bold', rotation=90)
put_text(2691, 1796, 'Probe number of clusters', fontsize=label_size, fontweight='bold')
put_text(1886, 1060, 'Pseudo-F-statistics', fontsize=label_size, fontweight='bold', rotation=90)

fig.savefig('out.png', dpi=100)
